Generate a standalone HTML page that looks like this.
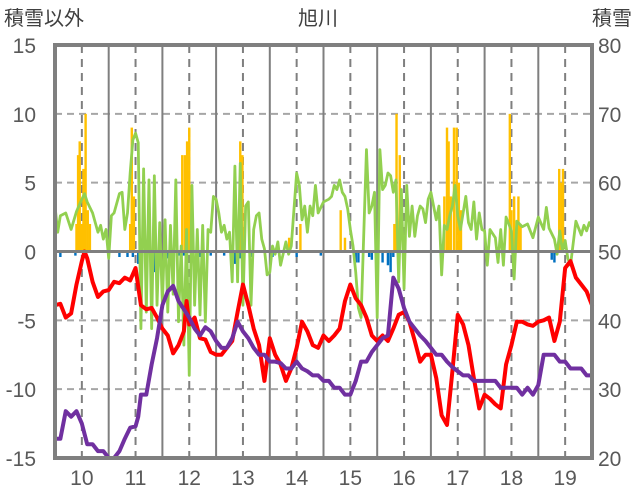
<!DOCTYPE html>
<html><head><meta charset="utf-8"><style>
body{margin:0;background:#fff;}
svg{display:block;font-family:"Liberation Sans","Noto Sans CJK JP",sans-serif;}
</style></head><body>
<svg id="chart" width="636" height="501">
<text x="4" y="25" font-size="20" fill="#404040">積雪以外</text>
<text x="318" y="25" font-size="20" fill="#404040" text-anchor="middle">旭川</text>
<text x="632" y="25" font-size="20" fill="#404040" text-anchor="end">積雪</text>
<g id="grid"></g><g id="bars"></g><g id="lines"></g><g id="axes"></g>
</svg>
<script>
const monthTicks=[10,11,12,13,14,15,16,17,18,19];
const leftTicks=[15,10,5,0,-5,-10,-15];
const rightTicks=[80,70,60,50,40,30,20];
const redT=[9.5,9.6,9.7,9.8,9.9,10.0,10.05,10.1,10.2,10.3,10.4,10.5,10.6,10.7,10.8,10.9,11.0,11.1,11.2,11.3,11.4,11.5,11.6,11.7,11.8,11.9,11.95,12.0,12.1,12.2,12.3,12.4,12.5,12.6,12.7,12.8,12.9,13.0,13.1,13.2,13.3,13.4,13.5,13.6,13.7,13.8,13.9,14.0,14.1,14.2,14.3,14.4,14.5,14.6,14.7,14.8,14.9,15.0,15.1,15.2,15.3,15.4,15.5,15.6,15.7,15.8,15.9,16.0,16.1,16.2,16.3,16.4,16.5,16.6,16.7,16.8,16.9,17.0,17.1,17.2,17.3,17.4,17.5,17.6,17.7,17.8,17.9,18.0,18.1,18.2,18.3,18.4,18.5,18.6,18.7,18.8,18.9,19.0,19.1,19.2,19.3,19.4,19.5];
const redV=[-3.9,-3.8,-4.8,-4.5,-2.4,-0.7,0,-0.5,-2.2,-3.3,-2.9,-2.8,-2.2,-2.3,-1.9,-2.1,-1.2,-3.9,-4.2,-4.1,-4.8,-5.6,-6.1,-7.4,-6.8,-5.8,-3.6,-5.3,-4.8,-6.3,-6.4,-7.3,-7.5,-7.5,-7.0,-6.5,-4.4,-2.4,-3.9,-5.6,-6.8,-9.4,-6.3,-7.5,-8.2,-9.4,-8.5,-7.0,-5.1,-5.8,-6.8,-7.0,-6.1,-6.5,-6.1,-5.6,-3.6,-2.4,-3.4,-3.9,-4.8,-6.1,-6.5,-6.1,-6.5,-5.6,-4.6,-4.4,-5.1,-6.5,-8.0,-7.5,-7.5,-9.2,-11.9,-12.6,-8.7,-4.6,-5.3,-6.8,-9.2,-11.4,-10.4,-10.7,-11.1,-11.4,-8.2,-6.8,-5.1,-5.1,-5.3,-5.4,-5.1,-5.0,-4.8,-6.5,-5.1,-1.2,-0.7,-1.9,-2.4,-2.9,-3.9];
const purpleT=[9.5,9.6,9.7,9.8,9.9,10.0,10.1,10.2,10.3,10.4,10.5,10.6,10.7,10.8,10.9,11.0,11.05,11.1,11.2,11.3,11.4,11.5,11.6,11.7,11.8,11.9,12.0,12.1,12.2,12.3,12.4,12.5,12.6,12.7,12.8,12.9,13.0,13.1,13.2,13.3,13.4,13.5,13.6,13.7,13.8,13.9,14.0,14.1,14.2,14.3,14.4,14.5,14.6,14.7,14.8,14.9,15.0,15.1,15.2,15.3,15.4,15.5,15.6,15.7,15.8,15.9,16.0,16.1,16.2,16.3,16.4,16.5,16.6,16.7,16.8,16.9,17.0,17.1,17.2,17.3,17.4,17.5,17.6,17.7,17.8,17.9,18.0,18.1,18.2,18.3,18.4,18.5,18.6,18.7,18.8,18.9,19.0,19.1,19.2,19.3,19.4,19.5];
const purpleV=[-13.6,-13.6,-11.6,-12.0,-11.6,-12.5,-14.0,-14.0,-14.5,-14.5,-15.0,-15.0,-14.5,-13.6,-12.8,-12.7,-12.0,-10.4,-10.4,-8.2,-6.3,-3.9,-2.9,-2.5,-3.6,-4.2,-4.8,-5.6,-6.1,-5.5,-5.8,-6.5,-7.0,-7.0,-6.3,-5.1,-5.8,-6.3,-7.0,-7.5,-7.5,-8.0,-8.0,-8.1,-8.5,-8.5,-8.0,-8.5,-8.7,-9.0,-9.0,-9.4,-9.4,-9.9,-9.9,-10.4,-10.4,-9.4,-8.0,-8.0,-7.3,-6.8,-6.3,-6.1,-1.9,-2.7,-4.1,-5.1,-5.6,-6.1,-6.5,-7.0,-7.5,-7.5,-8.0,-8.4,-8.7,-9.0,-9.0,-9.4,-9.4,-9.4,-9.4,-9.4,-9.9,-9.9,-9.9,-9.9,-10.4,-9.9,-10.4,-9.7,-7.5,-7.5,-7.5,-8.0,-8.0,-8.5,-8.5,-8.5,-9.0,-9.0];
const greenT=[9.5,9.55,9.6,9.7,9.8,9.9,10.0,10.05,10.1,10.2,10.3,10.35,10.4,10.45,10.5,10.55,10.6,10.7,10.75,10.8,10.85,10.9,10.95,11.0,11.05,11.1,11.15,11.2,11.25,11.3,11.35,11.4,11.45,11.5,11.55,11.6,11.65,11.7,11.75,11.8,11.85,11.9,11.95,12.0,12.05,12.1,12.15,12.2,12.25,12.3,12.35,12.4,12.45,12.5,12.55,12.6,12.65,12.7,12.75,12.8,12.85,12.9,12.95,13.0,13.05,13.1,13.15,13.2,13.25,13.3,13.35,13.4,13.45,13.5,13.55,13.6,13.65,13.7,13.8,13.85,13.9,14.0,14.05,14.1,14.15,14.2,14.25,14.3,14.35,14.4,14.5,14.6,14.65,14.7,14.75,14.8,14.85,14.9,14.95,15.0,15.05,15.1,15.15,15.2,15.3,15.35,15.4,15.45,15.5,15.55,15.6,15.65,15.7,15.75,15.8,15.85,15.9,15.95,16.0,16.05,16.1,16.15,16.2,16.25,16.3,16.35,16.4,16.45,16.5,16.55,16.6,16.65,16.7,16.75,16.8,16.85,16.9,16.95,17.0,17.05,17.1,17.15,17.2,17.25,17.3,17.35,17.4,17.45,17.5,17.55,17.6,17.7,17.75,17.8,17.85,17.9,18.0,18.05,18.1,18.2,18.3,18.4,18.5,18.6,18.65,18.7,18.8,18.85,18.9,18.95,19.0,19.05,19.1,19.2,19.3,19.35,19.4,19.45,19.5];
const greenV=[3.3,1.4,2.6,2.8,1.6,2.9,3.8,4.2,3.6,2.8,1.4,1.9,0.9,1.6,-0.5,2.6,2.8,4.2,4.3,1.6,2.8,5.7,8.1,8.6,7.9,-5.6,6.0,-4.4,5.2,-5.6,5.5,-3.9,2.1,-3.9,2.3,-4.4,1.9,-3.1,5.2,-5.1,0.4,-6.8,1.6,-9.0,4.8,-3.9,1.6,-4.6,1.9,-5.1,1.6,1.4,4.0,3.8,2.8,1.4,1.9,0.9,1.4,-2.2,6.2,-2.2,6.4,-3.9,3.3,3.6,-3.9,1.6,2.6,2.8,0.9,0.2,-1.7,-1.5,0.4,-0.2,0.7,-1.0,0.7,-0.2,0.4,5.7,4.8,2.3,3.3,1.4,3.3,2.6,4.8,2.8,3.6,3.8,4.0,4.8,4.5,5.2,4.3,4.0,3.1,1.6,0.4,-1.5,-4.1,-4.8,7.4,2.8,3.3,4.3,-4.8,7.4,4.5,4.8,5.7,5.5,4.3,5.2,-2.2,4.5,-2.7,4.8,1.1,3.3,1.1,2.6,3.3,3.1,2.1,3.8,4.3,3.3,2.3,3.3,-1.7,1.9,1.6,2.6,3.3,4.8,2.6,1.6,2.8,4.0,2.1,1.6,3.6,0.9,2.8,1.6,1.5,-1.0,1.6,1.0,-0.8,1.6,-1.0,2.5,1.5,-2.0,2.2,1.8,2.0,1.0,2.5,1.6,3.2,1.7,0.9,-0.2,1.5,0,0.8,-0.5,-1.0,2.2,1.2,1.9,1.5,2.1,1.7];
const orangeT=[9.9,9.93,9.96,9.99,10.03,10.07,10.11,10.15,10.9,10.93,10.97,11.87,11.92,11.96,12.0,12.95,12.99,13.86,14.07,14.82,14.9,15.82,15.86,15.92,16.75,16.8,16.83,16.87,16.93,16.98,17.02,17.06,17.97,18.0,18.05,18.1,18.13,18.17,18.89,18.93,18.96];
const orangeV=[2,7,8,2,6,10,3,2,2,9,4,7,7,8,9,8,7,1,2,3,1,2,10,7,4,9,8,4,9,9,5,3,10,3,4,2,4,2,6,5,6];
const blueT=[9.6,9.88,10.7,10.85,10.95,11.05,11.1,11.2,11.3,11.35,11.4,11.45,11.6,11.65,11.8,11.9,12.2,12.4,12.65,12.85,12.95,13.15,13.55,14.0,14.45,15.1,15.15,15.35,15.4,15.5,15.6,15.7,15.75,15.8,18.75,18.8];
const blueV=[-0.4,-0.3,-0.4,-0.4,-0.4,-0.9,-0.5,-0.5,-0.5,-1.5,-2.0,-1.0,-0.5,-0.4,-0.3,-0.3,-0.4,-0.3,-0.3,-0.9,-0.5,-0.4,-0.4,-0.4,-0.3,-0.8,-0.8,-0.4,-0.6,-0.5,-0.8,-1.0,-1.5,-0.4,-0.6,-0.8];

const NS='http://www.w3.org/2000/svg';
const L=55,R=592,T=45,B=458;
const xs=t=>L+(t-9.5)/10*(R-L);
const ys=v=>T+(15-v)/30*(B-T);
function mk(tag,attrs,parent){const e=document.createElementNS(NS,tag);for(const k in attrs)e.setAttribute(k,attrs[k]);parent.appendChild(e);return e;}
const grid=document.getElementById('grid'),bars=document.getElementById('bars'),lines=document.getElementById('lines'),axes=document.getElementById('axes');
leftTicks.forEach((v,i)=>{
  if(v!==0&&Math.abs(v)!==15){const g=mk('line',{x1:L,x2:R,y1:ys(v),y2:ys(v),stroke:'#a6a6a6','stroke-width':2,'stroke-dasharray':'7,5'},grid);
  
  }
  const t=mk('text',{x:36,y:ys(v)+8,'font-size':21,fill:'#595959','text-anchor':'end'},axes);t.textContent=v;
  
  
  const r=mk('text',{x:598,y:ys(v)+8,'font-size':21,fill:'#595959'},axes);r.textContent=rightTicks[i];
  
  
});
monthTicks.forEach(m=>{
  const d=mk('line',{x1:xs(m),x2:xs(m),y1:T,y2:B,stroke:'#7f7f7f','stroke-width':2,'stroke-dasharray':'8,6'},grid);
  
  
  if(m<19){const s=mk('line',{x1:xs(m+0.5),x2:xs(m+0.5),y1:T,y2:B,stroke:'#7f7f7f','stroke-width':2},grid);
  
  }
  const t=mk('text',{x:xs(m),y:485,'font-size':21,fill:'#595959','text-anchor':'middle'},axes);t.textContent=m;
  
  
});
const bw=(R-L)/10*0.045;
orangeT.forEach((t,i)=>{const b=mk('rect',{x:xs(t)-bw/2,y:ys(orangeV[i]),width:bw,height:ys(0)-ys(orangeV[i]),fill:'#ffc000'},bars);
  
  });
blueT.forEach((t,i)=>{const b=mk('rect',{x:xs(t)-bw/2,y:ys(0),width:bw,height:ys(blueV[i])-ys(0),fill:'#0070c0'},bars);
  
  });
function line(T_,V,color,w,name){const p=mk('polyline',{points:T_.map((t,i)=>xs(t)+','+ys(V[i])).join(' '),fill:'none',stroke:color,'stroke-width':w,'stroke-linejoin':'round','stroke-linecap':'round'},lines);
  
  }
line(greenT,greenV,'#92d050',2.8,'green-series');
line(redT,redV,'#ff0000',4,'red-series');
line(purpleT,purpleV,'#7030a0',4,'purple-series');
const z=mk('line',{x1:L,x2:R,y1:ys(0),y2:ys(0),stroke:'#7f7f7f','stroke-width':3},axes);


const f=mk('rect',{x:L,y:T,width:R-L,height:B-T,fill:'none',stroke:'#7f7f7f','stroke-width':4},axes);


</script>
</body></html>
